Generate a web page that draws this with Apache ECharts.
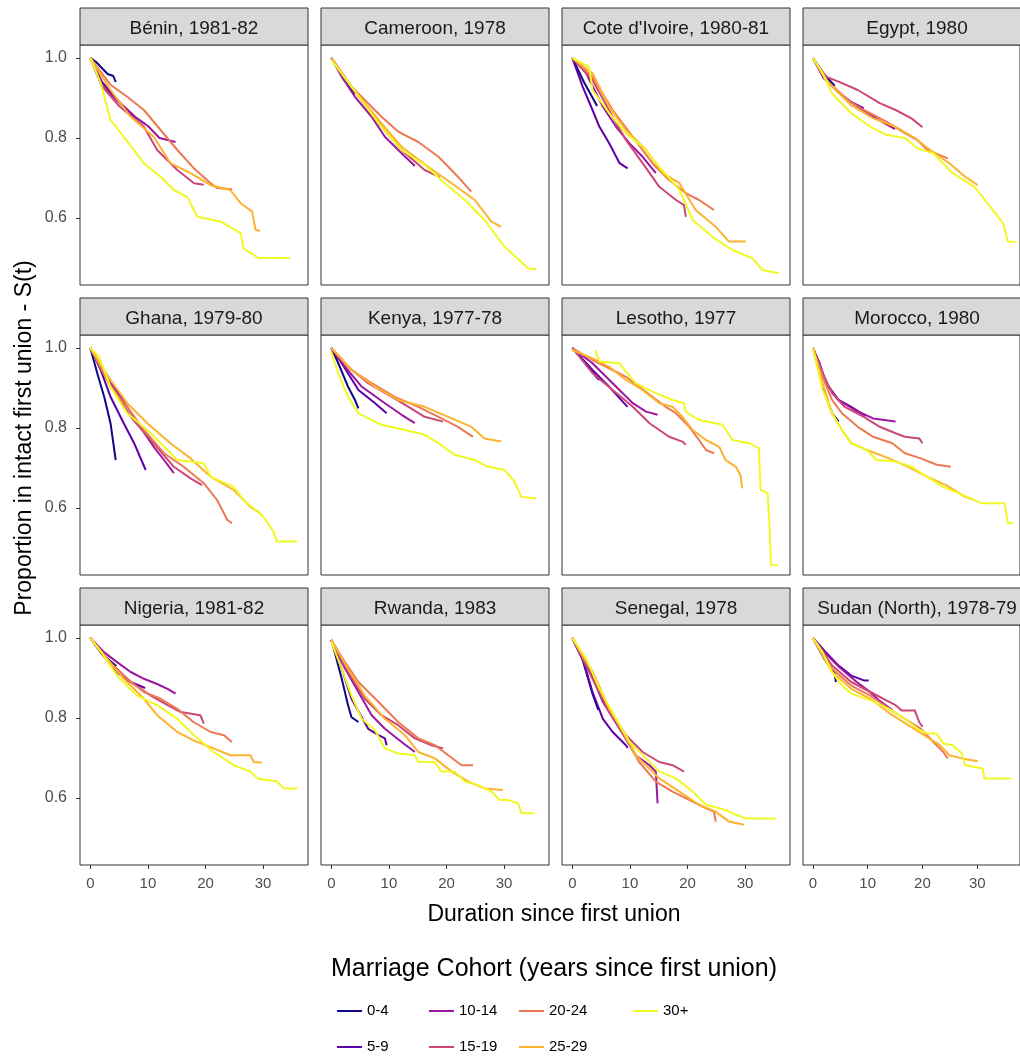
<!DOCTYPE html>
<html><head><meta charset="utf-8">
<script src="https://cdn.jsdelivr.net/npm/echarts@6/dist/echarts.min.js"></script>
<style>html,body{margin:0;padding:0;background:#fff}#c{width:1020px;height:1059px}</style>
</head><body><div id="c"></div><script>
const cohorts = ["0-4","5-9","10-14","15-19","20-24","25-29","30+"];
const colors = ["#0D0887","#5D01A6","#9C179E","#CC4678","#ED7953","#FDB32F","#F0F921"];
const countries = ["Bénin, 1981-82","Cameroon, 1978","Cote d'Ivoire, 1980-81","Egypt, 1980",
  "Ghana, 1979-80","Kenya, 1977-78","Lesotho, 1977","Morocco, 1980",
  "Nigeria, 1981-82","Rwanda, 1983","Senegal, 1978","Sudan (North), 1978-79"];
const xTicks = [0,10,20,30];
const yTicks = [0.6,0.8,1.0];

const benin = [
 [[0,1.0],[1,0.99],[2,0.975],[3,0.96],[4,0.955],[4.4,0.94]],
 [[0,1.0],[2,0.94],[5,0.89],[7,0.86],[9.5,0.835]],
 [[0,1.0],[2,0.93],[5,0.89],[8,0.85],[10,0.83],[12,0.80],[14.8,0.79]],
 [[0,1.0],[2,0.93],[5,0.88],[9.3,0.828],[11.6,0.77],[15.1,0.72],[18,0.687],[19.7,0.683]],
 [[0,1.0],[3.5,0.933],[6.4,0.903],[9.3,0.87],[12.2,0.82],[15.1,0.77],[18,0.724],[20.9,0.687],[22,0.675],[24.6,0.672]],
 [[0,1.0],[3.5,0.92],[7,0.853],[11,0.803],[13.9,0.737],[17.4,0.712],[20.9,0.682],[24.3,0.67],[26.1,0.637],[28.1,0.616],[28.7,0.57],[29.5,0.568]],
 [[0,1.0],[1.8,0.937],[3.5,0.845],[5.3,0.812],[9.3,0.737],[12.2,0.703],[14.5,0.67],[16.8,0.653],[18.6,0.603],[22.6,0.591],[26.1,0.562],[26.6,0.524],[29.2,0.5],[34.7,0.5]]
];
const cameroon = [
 [[0,1],[2,0.955],[4.1,0.91]],
 [[0,1],[2,0.955],[5,0.9],[7,0.86],[9,0.83]],
 [[0,1],[1.8,0.953],[4.1,0.903],[7,0.853],[9.3,0.803],[12.2,0.762],[14.5,0.73]],
 [[0,1],[3.5,0.928],[8.2,0.837],[12.2,0.77],[16.2,0.72],[18.8,0.702]],
 [[0,1],[3.5,0.928],[8.7,0.853],[11.6,0.816],[15.1,0.79],[18.6,0.753],[22,0.703],[24.3,0.666]],
 [[0,1],[3.5,0.928],[8.2,0.845],[12.2,0.778],[16.8,0.728],[20.9,0.687],[24.9,0.645],[27.8,0.591],[29.5,0.578]],
 [[0,0.995],[3.5,0.928],[8.2,0.837],[12.2,0.77],[16.2,0.733],[19.7,0.687],[23.2,0.645],[26.6,0.595],[30.1,0.528],[34.2,0.474],[35.6,0.472]]
];
const coteIvoire = [
 [[0,1],[2,0.94],[4.3,0.88]],
 [[0,1],[1.8,0.928],[3.5,0.87],[4.7,0.828],[6.4,0.787],[8.2,0.737],[9.6,0.724]],
 [[0,1],[2.4,0.962],[5.3,0.878],[7.6,0.828],[9.9,0.787],[12.2,0.753],[14.5,0.712]],
 [[0,1],[3.5,0.945],[7,0.853],[9.3,0.795],[12.2,0.737],[15.1,0.678],[18,0.645],[19.4,0.632],[19.7,0.603]],
 [[0,1],[3.5,0.953],[7,0.87],[10.5,0.803],[13.9,0.737],[16.8,0.695],[19.7,0.662],[22,0.645],[24.6,0.62]],
 [[0,1],[3.5,0.962],[6.4,0.878],[9.3,0.82],[12.8,0.77],[15.7,0.712],[18.6,0.687],[21.4,0.62],[24.9,0.578],[27.2,0.541],[30.1,0.541]],
 [[0,1],[2.9,0.978],[3.5,0.92],[6.4,0.862],[9.3,0.812],[12.2,0.778],[15.1,0.728],[18.6,0.67],[20.9,0.595],[24.3,0.553],[27.8,0.52],[31.3,0.499],[33,0.47],[35.9,0.462]]
];
const egypt = [
 [[0,1],[2,0.96],[4,0.93]],
 [[0,1],[2,0.95],[5,0.91],[7,0.89],[9.3,0.874]],
 [[0,1],[2,0.95],[5,0.91],[9,0.87],[12,0.845],[15,0.822]],
 [[0,1],[2.4,0.953],[4.7,0.941],[8.2,0.92],[12.2,0.887],[15.1,0.87],[18,0.849],[20,0.827]],
 [[0,1],[2.4,0.945],[6.4,0.895],[9.3,0.87],[13.4,0.841],[16.8,0.812],[19.1,0.795],[20.9,0.77],[24.6,0.749]],
 [[0,1],[2.4,0.945],[7,0.882],[11,0.849],[15.1,0.828],[18.6,0.8],[21.4,0.77],[24.9,0.737],[27.8,0.703],[30.1,0.682]],
 [[0,1],[1.8,0.962],[3.5,0.912],[7,0.862],[10.5,0.828],[13.4,0.808],[16.8,0.8],[19.1,0.774],[22,0.762],[25.5,0.712],[29.5,0.678],[32.4,0.628],[34.7,0.587],[35.6,0.541],[37,0.54]]
];
const ghana = [
 [[0,1],[1.2,0.937],[2.4,0.878],[3.5,0.812],[4.4,0.72]],
 [[0,1],[1.8,0.945],[3.5,0.878],[5.8,0.812],[7.6,0.762],[9.6,0.695]],
 [[0,1],[2.4,0.937],[5.3,0.878],[8.2,0.812],[11,0.753],[12.8,0.72],[14.5,0.687]],
 [[0,1],[3.5,0.908],[7,0.828],[10.5,0.77],[14.5,0.703],[17.4,0.674],[19.4,0.657]],
 [[0,1],[3.5,0.903],[6.4,0.853],[9.3,0.795],[12.8,0.737],[16.2,0.703],[19.7,0.662],[22,0.62],[23.8,0.57],[24.6,0.562]],
 [[0,1],[3.5,0.92],[6.4,0.862],[9.9,0.812],[13.9,0.762],[17.4,0.724],[20.9,0.678],[24.9,0.645],[27.8,0.603],[29.5,0.587]],
 [[0,1],[1.5,0.978],[3.5,0.903],[6.4,0.837],[10.5,0.787],[15.1,0.72],[19.7,0.712],[20.9,0.678],[24.9,0.653],[26.6,0.62],[30.1,0.578],[31.8,0.541],[32.4,0.516],[35.9,0.516]]
];
const kenya = [
 [[0,1],[1.2,0.962],[2.9,0.903],[4.1,0.87],[4.7,0.849]],
 [[0,1],[1.8,0.962],[4.7,0.895],[7.6,0.862],[9.6,0.837]],
 [[0,1],[2.4,0.953],[5.3,0.903],[9.3,0.862],[12.2,0.833],[14.5,0.812]],
 [[0,1],[2.9,0.953],[6.4,0.912],[10.5,0.878],[13.4,0.853],[16.2,0.828],[19.4,0.816]],
 [[0,1],[3.5,0.945],[7,0.912],[11,0.878],[15.1,0.853],[18.6,0.828],[22,0.803],[24.6,0.778]],
 [[0,1],[3.5,0.945],[7.6,0.903],[11.6,0.87],[16.2,0.853],[20.3,0.828],[24.3,0.803],[26.6,0.774],[29.5,0.766]],
 [[0,0.99],[1.2,0.937],[2.9,0.878],[4.7,0.837],[6.4,0.824],[8.7,0.808],[12.8,0.795],[16.2,0.783],[18.6,0.762],[21.4,0.733],[24.9,0.72],[27.2,0.703],[30.1,0.695],[31.8,0.666],[33,0.628],[35.6,0.624]]
];
const lesotho = [
 [[0,1],[2.9,0.953],[4.1,0.928],[4.7,0.92]],
 [[0,1],[3.5,0.945],[6.4,0.903],[9.3,0.857],[9.6,0.853]],
 [[0,1],[3.5,0.962],[7,0.912],[10.5,0.862],[12.8,0.841],[14.8,0.833]],
 [[0,1],[3.5,0.937],[7,0.895],[10.5,0.853],[13.4,0.812],[16.8,0.778],[19.1,0.766],[19.7,0.758]],
 [[0,1],[3.5,0.97],[7,0.945],[9.3,0.928],[11.6,0.903],[13.9,0.878],[16.2,0.853],[18,0.837],[20.3,0.803],[22,0.77],[23.2,0.745],[24.6,0.737]],
 [[0,0.995],[4.1,0.97],[6.4,0.953],[9.3,0.92],[12.2,0.895],[15.1,0.862],[17.4,0.853],[19.1,0.828],[20.9,0.795],[23.2,0.77],[25.5,0.753],[26.6,0.72],[28.4,0.703],[29.2,0.682],[29.5,0.649]],
 [[4,0.995],[4.7,0.966],[8.2,0.962],[9.3,0.941],[11,0.912],[13.9,0.891],[17.4,0.87],[19.4,0.862],[19.7,0.841],[22,0.82],[26.1,0.808],[27.8,0.77],[30.7,0.762],[32.4,0.749],[32.7,0.645],[33.9,0.637],[34.2,0.57],[34.5,0.457],[35.6,0.457]]
];
const morocco = [
 [[0,1],[1,0.95],[2.1,0.89],[3.5,0.837],[4.7,0.816]],
 [[0,1],[1.2,0.962],[2.4,0.912],[4.7,0.87],[7,0.853],[9.3,0.833],[9.6,0.83]],
 [[0,1],[1.2,0.962],[2.4,0.912],[4.7,0.87],[7.6,0.845],[11,0.824],[15.1,0.816]],
 [[0,1],[1.8,0.937],[3.5,0.887],[5.8,0.853],[9.3,0.828],[12.2,0.803],[15.1,0.787],[16.8,0.778],[19.4,0.774],[20,0.762]],
 [[0,1],[1.8,0.928],[3.5,0.87],[5.3,0.837],[8.2,0.803],[11,0.778],[14.5,0.762],[16.8,0.737],[19.7,0.724],[22.6,0.708],[25.2,0.703]],
 [[0,1],[1.8,0.912],[3.5,0.837],[5.3,0.795],[7,0.762],[9.9,0.745],[13.9,0.724],[17.4,0.703],[20.9,0.678],[24.3,0.657],[27.8,0.628],[29.5,0.62]],
 [[0,1],[1.8,0.895],[3.5,0.837],[5.3,0.795],[7,0.762],[9.9,0.745],[11.6,0.72],[15.1,0.716],[18,0.703],[20.9,0.678],[23.8,0.653],[26.6,0.637],[30.7,0.612],[35,0.612],[35.6,0.562],[36.5,0.562]]
];
const nigeria = [
 [[0,1],[2,0.96],[4.5,0.93]],
 [[0,1],[2,0.96],[5,0.91],[7,0.89],[9.5,0.875]],
 [[0,1],[2.4,0.964],[4.7,0.939],[7,0.915],[9.3,0.898],[11.6,0.885],[13.4,0.873],[14.8,0.861]],
 [[0,1],[3.5,0.939],[7,0.89],[10.5,0.856],[13.4,0.832],[15.7,0.815],[19.1,0.807],[19.7,0.786]],
 [[0,1],[3.5,0.935],[6.4,0.898],[9.3,0.865],[12.2,0.848],[15.1,0.823],[17.9,0.79],[20.9,0.765],[23.2,0.757],[24.6,0.74]],
 [[0,1],[2.9,0.948],[5.8,0.898],[9.3,0.848],[11.6,0.807],[15.1,0.765],[17.9,0.744],[21.4,0.724],[24.3,0.707],[27.8,0.707],[28.4,0.69],[29.8,0.689]],
 [[0,1],[2.3,0.956],[4.6,0.906],[8.1,0.856],[11.6,0.832],[15.1,0.798],[18,0.757],[21.4,0.715],[24.9,0.682],[27.8,0.666],[29,0.649],[32.4,0.641],[33.6,0.624],[35.9,0.624]]
];
const rwanda = [
 [[0,0.995],[0.6,0.964],[1.8,0.898],[2.9,0.832],[3.5,0.802],[4.7,0.79]],
 [[0,0.995],[1.8,0.923],[3.5,0.848],[6.4,0.773],[8.2,0.757],[9.3,0.749],[9.6,0.732]],
 [[0,0.995],[2.4,0.923],[4.7,0.865],[7,0.807],[9.3,0.773],[12.2,0.74],[14.5,0.715]],
 [[0,0.995],[2.9,0.915],[5.8,0.848],[8.7,0.807],[11.6,0.782],[14.5,0.749],[17.4,0.732],[19.4,0.724]],
 [[0,0.995],[2.4,0.939],[4.7,0.89],[8.2,0.84],[11.6,0.79],[15.1,0.749],[18,0.732],[20.3,0.707],[22.6,0.682],[24.6,0.682]],
 [[0,0.995],[2.9,0.923],[5.8,0.856],[9.3,0.798],[12.8,0.757],[15.1,0.715],[18,0.699],[20.9,0.666],[23.8,0.641],[26.6,0.624],[29.8,0.62]],
 [[0,0.99],[1.8,0.923],[3.5,0.856],[5.3,0.798],[7.6,0.769],[9.3,0.724],[11.6,0.711],[14.5,0.707],[15.1,0.69],[18,0.69],[19.1,0.666],[21.4,0.666],[23.2,0.641],[25.5,0.632],[27.8,0.616],[29.2,0.595],[30.7,0.595],[32.4,0.587],[33,0.562],[35.3,0.562]]
];
const senegal = [
 [[0,1],[1.8,0.945],[3.5,0.86],[4.5,0.82]],
 [[0,1],[1.8,0.948],[3.5,0.865],[5.3,0.798],[7,0.765],[9.3,0.732],[9.6,0.725]],
 [[0,1],[2.4,0.94],[5.3,0.84],[8.2,0.773],[11,0.707],[13.4,0.682],[14.5,0.666],[14.8,0.587]],
 [[0,1],[3.5,0.898],[6.4,0.815],[9.3,0.757],[12.2,0.715],[15.1,0.69],[17.4,0.682],[19.4,0.666]],
 [[0,1],[3.5,0.915],[6.4,0.823],[9.3,0.749],[11.6,0.69],[14.5,0.641],[17.4,0.616],[20.9,0.591],[23.2,0.574],[24.6,0.566],[24.9,0.541]],
 [[0,1],[3.5,0.915],[6.4,0.823],[9.3,0.757],[11,0.707],[15.1,0.649],[18.6,0.616],[22,0.583],[24.9,0.566],[27.2,0.541],[29.8,0.533]],
 [[0,1],[2.4,0.948],[4.7,0.873],[7.6,0.798],[9.9,0.74],[12.8,0.699],[15.1,0.666],[18,0.649],[20.9,0.616],[23.2,0.583],[26.6,0.57],[28.4,0.558],[30.1,0.549],[35.3,0.549]]
];
const sudan = [
 [[0,1],[2,0.95],[4,0.91],[4.2,0.89]],
 [[0,1],[2.4,0.964],[4.7,0.931],[7,0.906],[9.3,0.894],[10.2,0.894]],
 [[0,1],[2.4,0.96],[5,0.925],[8,0.89],[10,0.87],[12,0.845],[14.5,0.82]],
 [[0,1],[3.5,0.931],[7,0.89],[10.5,0.865],[13.4,0.844],[15.1,0.832],[16.2,0.819],[18.6,0.819],[19.4,0.79],[20,0.778]],
 [[0,1],[3.5,0.923],[7,0.881],[10.5,0.856],[13.9,0.823],[16.8,0.798],[19.7,0.773],[22,0.74],[23.8,0.715],[24.6,0.699]],
 [[0,1],[3.5,0.915],[7,0.873],[10.5,0.848],[14.5,0.807],[17.4,0.782],[20.3,0.757],[23.2,0.732],[24.9,0.707],[27.2,0.699],[30.1,0.692]],
 [[0,1],[1.8,0.964],[3.5,0.915],[5.3,0.881],[7,0.861],[10.5,0.844],[13.9,0.823],[16.8,0.798],[19.1,0.773],[20.9,0.761],[22.6,0.761],[23.8,0.736],[25.5,0.732],[27.2,0.711],[27.8,0.682],[31,0.674],[31.3,0.649],[36.2,0.649]]
];
const panelData = [benin, cameroon, coteIvoire, egypt, ghana, kenya, lesotho, morocco, nigeria, rwanda, senegal, sudan];

const FONT = "'Liberation Sans', Arial, sans-serif";
const PL = 80, PW = 228, PSTEP = 241, PT = 45, PH = 240, RSTEP = 290, SH = 37;

const grids = [], xAxes = [], yAxes = [], series = [], graphics = [];
panelData.forEach((curves, i) => {
  const r = Math.floor(i / 4), c = i % 4;
  const left = PL + c * PSTEP, top = PT + r * RSTEP;
  grids.push({left: left, top: top, width: PW, height: PH, show: true,
    borderColor: '#333333', borderWidth: 1, backgroundColor: '#fff', containLabel: false});
  xAxes.push({type: 'value', gridIndex: i, min: -1.8, max: 37.8,
    axisLine: {show: false, onZero: false}, splitLine: {show: false},
    axisTick: {show: r === 2, length: 4, lineStyle: {color: '#333'}, customValues: xTicks},
    axisLabel: {show: r === 2, customValues: xTicks, color: '#4D4D4D', fontSize: 15, fontFamily: FONT, margin: 11}});
  yAxes.push({type: 'value', gridIndex: i, min: 0.4325, max: 1.0325,
    axisLine: {show: false, onZero: false}, splitLine: {show: false},
    axisTick: {show: c === 0, length: 4, lineStyle: {color: '#333'}, customValues: yTicks},
    axisLabel: {show: c === 0, customValues: yTicks, color: '#4D4D4D', fontSize: 16, fontFamily: FONT, margin: 13,
      formatter: v => v.toFixed(1)}});
  curves.forEach((pts, k) => {
    series.push({type: 'line', name: cohorts[k], xAxisIndex: i, yAxisIndex: i,
      data: pts, symbol: 'none', smooth: false, clip: true,
      lineStyle: {color: colors[k], width: 2}, itemStyle: {color: colors[k]}, z: 2 + k});
  });
  graphics.push({type: 'rect', shape: {x: left, y: top - SH, width: PW, height: SH},
    style: {fill: '#D9D9D9', stroke: '#333333', lineWidth: 1}});
  graphics.push({type: 'text', x: left + PW / 2, y: top - SH / 2 + 2,
    style: {text: countries[i], fill: '#1A1A1A', font: '19px ' + FONT, textAlign: 'center', textVerticalAlign: 'middle'}});
});

graphics.push({type: 'text', x: 554, y: 915, style: {text: 'Duration since first union', fill: '#000',
  font: '23px ' + FONT, textAlign: 'center', textVerticalAlign: 'middle'}});
graphics.push({type: 'text', x: 25, y: 438, rotation: Math.PI / 2, style: {text: 'Proportion in intact first union - S(t)', fill: '#000',
  font: '23px ' + FONT, textAlign: 'center', textVerticalAlign: 'middle'}});
graphics.push({type: 'text', x: 554, y: 969, style: {text: 'Marriage Cohort (years since first union)', fill: '#000',
  font: '25px ' + FONT, textAlign: 'center', textVerticalAlign: 'middle'}});

const legendCols = [[cohorts[0], cohorts[1]], [cohorts[2], cohorts[3]], [cohorts[4], cohorts[5]], [cohorts[6]]];
const legendLeft = [337, 429, 519, 633];
const legends = legendCols.map((d, j) => ({
  data: d, orient: 'vertical', left: legendLeft[j], top: 1003, itemWidth: 25, itemHeight: 2, icon: 'rect',
  itemGap: 20, selectedMode: false, padding: 0,
  textStyle: {fontSize: 15, fontFamily: FONT, color: '#000', lineHeight: 16}
}));

const chart = echarts.init(document.getElementById('c'), null, {renderer: 'canvas'});
chart.setOption({
  animation: false, color: colors, backgroundColor: '#fff',
  grid: grids, xAxis: xAxes, yAxis: yAxes, series: series,
  legend: legends, graphic: graphics
});
</script></body></html>
